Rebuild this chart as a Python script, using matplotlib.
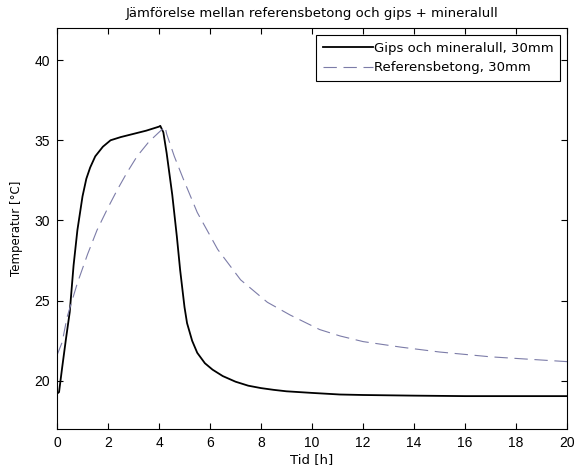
import matplotlib
matplotlib.use("Agg")
import matplotlib.pyplot as plt

# Gips och mineralull, 30mm
t_gips = [0.0, 0.08, 0.2, 0.35, 0.5, 0.65, 0.8, 1.0, 1.15, 1.3, 1.5, 1.8, 2.1, 2.5, 3.0, 3.5, 4.0, 4.05,
          4.17, 4.3, 4.52, 4.7, 4.83, 5.0, 5.1, 5.3, 5.5, 5.8, 6.1, 6.5, 7.0, 7.5, 8.0, 8.5, 9.0, 10.0,
          11.1, 12.0, 13.0, 14.0, 16.0, 18.0, 20.0]
T_gips = [19.2, 19.3, 20.8, 22.6, 24.3, 27.2, 29.4, 31.5, 32.6, 33.3, 34.0, 34.6, 35.0, 35.2, 35.4, 35.6, 35.85, 35.9,
          35.5, 34.2, 31.6, 29.0, 26.9, 24.6, 23.6, 22.5, 21.75, 21.1, 20.7, 20.3, 19.95, 19.7, 19.55, 19.44, 19.35, 19.25,
          19.15, 19.12, 19.1, 19.08, 19.05, 19.05, 19.05]

# Referensbetong, 30mm
t_ref = [0.0, 0.1, 0.2, 0.4, 0.8, 1.2, 1.57, 2.0, 2.36, 2.75, 3.14, 3.6, 4.0, 4.24,
         4.3, 4.6, 4.95, 5.5, 6.3, 7.2, 8.25, 9.15, 10.3, 11.1, 12.0, 13.5, 15.0, 16.0, 17.0, 18.0, 19.0, 20.0]
T_ref = [21.6, 22.0, 22.4, 24.0, 26.1, 27.9, 29.4, 30.8, 31.9, 33.0, 34.0, 34.9, 35.5, 35.85,
         35.4, 34.0, 32.6, 30.5, 28.2, 26.3, 24.9, 24.1, 23.2, 22.8, 22.45, 22.1, 21.8, 21.65, 21.5, 21.4, 21.3, 21.2]

xticks = list(range(0, 21, 2))
yticks = [20, 25, 30, 35, 40]

TXT = ['DejaVu Sans']
TICK = ['Liberation Sans', 'DejaVu Sans']

fig = plt.figure(figsize=(5.83, 4.76), dpi=100)
ax = fig.add_axes([57/583, 47/476, (567-57)/583, (429-28)/476])

ax.plot(t_gips, T_gips, color='black', linewidth=1.3, label='Gips och mineralull, 30mm')
ax.plot(t_ref, T_ref, color='#7c7ca8', linewidth=0.8, dashes=(12, 6), label='Referensbetong, 30mm')

ax.set_xlim(0, 20)
ax.set_ylim(17, 42)
ax.set_xticks(xticks)
ax.set_yticks(yticks)
ax.tick_params(direction='in', top=True, right=True, length=4, width=0.8, pad=5)
for lab in ax.get_xticklabels() + ax.get_yticklabels():
    lab.set_fontfamily(TICK)
    lab.set_fontsize(10)
for s in ax.spines.values():
    s.set_linewidth(0.8)

ax.set_xlabel('Tid [h]', fontsize=9.5, family=TXT, labelpad=2)
ax.set_ylabel('Temperatur [°C]', fontsize=8.5, family=TXT, labelpad=8)
ax.set_title('Jämförelse mellan referensbetong och gips + mineralull', fontsize=9.5, family=TXT, pad=8)

leg = ax.legend(loc='upper right', fancybox=False, edgecolor='black', framealpha=1,
                prop={'family': TXT, 'size': 9.5}, handlelength=3.8, handletextpad=0.05, borderpad=0.5,
                labelspacing=0.5, borderaxespad=0.55)
leg.get_frame().set_linewidth(0.8)

fig.savefig('out.png', dpi=100)
